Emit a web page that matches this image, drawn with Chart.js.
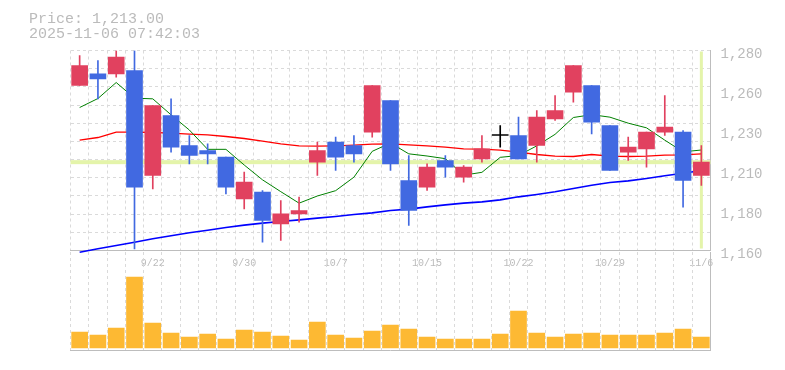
<!DOCTYPE html>
<html><head><meta charset="utf-8">
<script src="https://cdn.jsdelivr.net/npm/chart.js@4/dist/chart.umd.min.js"></script>
<style>
html,body{margin:0;padding:0;background:#fff;width:785px;height:370px;overflow:hidden}
#wrap{position:relative;width:785px;height:370px}
canvas{position:absolute;left:0;top:0}
#title{position:absolute;left:29px;top:12px;font:15px "Liberation Mono",monospace;line-height:15px;color:#bbb;white-space:pre}
</style></head><body>
<div id="wrap">
<canvas id="price" width="785" height="370"></canvas>
<canvas id="vol" width="785" height="370"></canvas>
<div id="title">Price: 1,213.00
2025-11-06 07:42:03</div>
</div>
<script>
const dates = ['9/16','9/17','9/18','9/19','9/22','9/24','9/25','9/26','9/29','9/30',
  '10/1','10/2','10/3','10/6','10/7','10/8','10/9','10/10','10/14','10/15',
  '10/16','10/17','10/20','10/21','10/22','10/23','10/24','10/27','10/28','10/29',
  '10/30','10/31','11/4','11/5','11/6'];
const shownDates = ['9/22','9/30','10/7','10/15','10/22','10/29','11/6'];

const openP  = [1259,1266,1266,1268,1205,1241,1223,1220,1216,1191,
  1195,1176,1182,1213,1225,1223,1231,1250,1202,1198,
  1214,1204,1215,1229,1229,1223,1239,1255,1259,1235,
  1219,1221,1231,1231,1205];
const closeP = [1271,1263,1276,1198,1247,1222,1217,1218,1198,1201,
  1178,1182,1184,1220,1216,1218,1259,1212,1184,1210,
  1210,1210,1221,1229,1215,1240,1244,1271,1237,1208,
  1222,1231,1234,1202,1213];
const highP  = [1277,1274,1280,1280,1247,1251,1229,1224,1216,1207,
  1196,1190,1192,1225,1228,1229,1259,1250,1217,1212,
  1217,1211,1229,1235,1240,1244,1253,1271,1259,1235,
  1228,1231,1253,1232,1223];
const lowP   = [1259,1251,1264,1161,1197,1219,1212,1212,1194,1185,
  1165,1166,1177,1205,1208,1213,1228,1208,1175,1196,
  1204,1201,1213,1222,1215,1213,1238,1249,1230,1208,
  1214,1210,1229,1186,1199];
const ma5  = [1245.8,1251.2,1260.8,1251.4,1251.0,1241.4,1232.3,1220.7,1220.7,1211.3,
  1202.4,1195.3,1188.4,1192.7,1195.9,1204.0,1219.5,1224.5,1218.0,1216.7,
  1215.1,1205.2,1206.9,1215.9,1217.0,1222.8,1229.7,1239.8,1241.5,1240.0,
  1236.4,1233.6,1226.2,1219.2,1220.3];
const ma25 = [1226.2,1227.8,1231.0,1231.0,1230.8,1230.4,1229.8,1229.4,1228.4,1227.2,
  1225.6,1224.0,1222.8,1222.6,1222.8,1223.2,1223.8,1224.0,1223.4,1222.8,
  1222.0,1221.0,1220.8,1220.2,1219.0,1217.6,1216.6,1216.4,1217.6,1216.6,
  1216.4,1216.6,1217.2,1217.4,1218.0];
const ma75 = [1159.0,1161.0,1163.0,1165.0,1167.0,1168.8,1170.6,1172.2,1173.8,1175.2,
  1176.4,1177.4,1178.4,1179.4,1180.4,1181.6,1182.6,1184.0,1184.8,1186.2,
  1187.4,1188.4,1189.2,1190.4,1192.2,1193.6,1195.2,1197.2,1199.2,1200.8,
  1201.8,1203.2,1204.8,1206.4,1208.0];
const volume = [16000,13000,20000,71000,25000,15000,11000,14000,9000,18000,
  16000,12000,8000,26000,13000,10000,17000,23000,19000,11000,
  9000,9000,9000,14000,37000,15000,11000,14000,15000,13000,
  13000,13000,15000,19000,11000];
const currentPrice = 1213;
const yTickValues = [1160,1184,1208,1232,1256,1280];
const yTickLabels = ['1,160','1,180','1,210','1,230','1,260','1,280'];

const upColor = '#e1415f', downColor = '#4169e1', dojiColor = '#000000';
const candleColor = openP.map((o,i)=> closeP[i] > o ? upColor : (closeP[i] < o ? downColor : dojiColor));
const gridColor = '#dadada', axisColor = '#bdbdbd', textColor = '#bbb';
const monoFont = 'Liberation Mono';

const refLines = {
  id:'refLines',
  beforeDatasetsDraw(chart){
    const {ctx, chartArea:a, scales:{x,y}} = chart;
    ctx.save();
    ctx.fillStyle = '#e4f4aa';
    const py = y.getPixelForValue(currentPrice);
    ctx.fillRect(a.left, py-2, a.right-a.left, 4);
    const px = x.getPixelForValue(dates.length-1);
    ctx.fillRect(px-1.5, a.top+1, 3, a.bottom-a.top-3);
    ctx.restore();
  }
};

new Chart(document.getElementById('price'), {
  type:'bar',
  data:{labels:dates, datasets:[
    {type:'bar', data:openP.map((o,i)=>[o,closeP[i]]), backgroundColor:candleColor, barThickness:16, grouped:false, minBarLength:1, order:0},
    {type:'bar', data:lowP.map((l,i)=>[l,highP[i]]), backgroundColor:candleColor, barThickness:1, grouped:false, order:0},
    {type:'line', data:ma5, borderColor:'#008000', borderWidth:1, pointRadius:0, tension:0, order:1},
    {type:'line', data:ma25, borderColor:'#ff0000', borderWidth:1.3, pointRadius:0, tension:0, order:1},
    {type:'line', data:ma75, borderColor:'#0000ff', borderWidth:1.6, pointRadius:0, tension:0, order:1, clip:false}
  ]},
  plugins:[refLines],
  options:{
    responsive:false, animation:false, devicePixelRatio:1,
    layout:{padding:{left:70.5, top:50.5, right:0, bottom:0}},
    plugins:{legend:{display:false}, tooltip:{enabled:false}},
    scales:{
      x:{type:'category', offset:true,
        grid:{offset:true, color:gridColor, lineWidth:1, drawTicks:false},
        border:{display:true, color:axisColor, width:1, dash:[3,3]},
        ticks:{autoSkip:false, maxRotation:0, padding:7, color:textColor, font:{family:monoFont, size:10},
          callback:(v,i)=> shownDates.includes(dates[i]) ? dates[i] : ''},
        afterFit:s=>{s.height = 370-250.5;}},
      y:{type:'linear', position:'right', min:1160, max:1280,
        grid:{display:false, drawTicks:false},
        border:{display:true, color:axisColor, width:1},
        ticks:{padding:10, labelOffset:4, color:textColor, font:{family:monoFont, size:14},
          callback:(v,i)=> yTickLabels[i]},
        afterBuildTicks:s=>{s.ticks = yTickValues.map(v=>({value:v}));},
        afterFit:s=>{s.width = 785-710.5;}},
      g:{type:'linear', axis:'y', position:'left', min:0, max:11,
        ticks:{display:false, stepSize:1, maxTicksLimit:20},
        grid:{color:gridColor, drawTicks:false},
        border:{display:false, dash:[3,3]},
        afterFit:s=>{s.width = 0;}}
    }
  }
});

new Chart(document.getElementById('vol'), {
  type:'bar',
  data:{labels:dates, datasets:[{data:volume, backgroundColor:'#fdb933', barThickness:16}]},
  options:{
    responsive:false, animation:false, devicePixelRatio:1,
    layout:{padding:{left:70.5, top:252, right:0, bottom:0}},
    plugins:{legend:{display:false}, tooltip:{enabled:false}},
    scales:{
      x:{type:'category', offset:true,
        grid:{offset:true, color:gridColor, drawTicks:false},
        border:{display:true, color:axisColor, width:1, dash:[3,3]},
        ticks:{display:false},
        afterFit:s=>{s.height = 370-350;}},
      y:{type:'linear', position:'right', min:-2000, max:96000,
        grid:{display:false, drawTicks:false},
        border:{display:true, color:axisColor, width:1},
        ticks:{display:false},
        afterFit:s=>{s.width = 785-710.5;}}
    }
  }
});
</script>
</body></html>
